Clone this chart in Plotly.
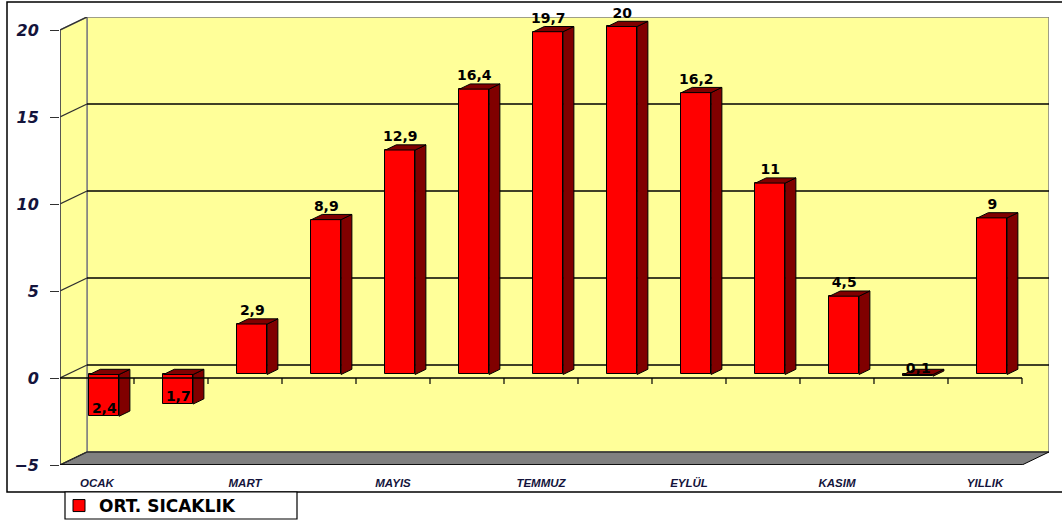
import plotly.graph_objects as go

# ---- data ----
months = ["OCAK", "ŞUBAT", "MART", "NİSAN", "MAYIS", "HAZİRAN", "TEMMUZ",
          "AĞUSTOS", "EYLÜL", "EKİM", "KASIM", "ARALIK", "YILLIK"]
temps = [-2.4, -1.7, 2.9, 8.9, 12.9, 16.4, 19.7, 20, 16.2, 11, 4.5, -0.1, 9]
series_name = "ORT. SICAKLIK"
y_ticks = [-5, 0, 5, 10, 15, 20]

# ---- 3D look geometry (in axis units) ----
DX, DY = 0.365, 0.747        # depth offset of the back wall
F, B = 0.27, 0.67            # bar front / back depth fraction
W = 0.40                     # bar width
YMIN, YMAX = -5, 20
n = len(months)
XL, XR = -0.5, n - 0.5

W_PX, H_PX = 1062, 525
ML, MR, MT, MB = 60, 13, 17, 60
PW, PH = W_PX - ML - MR, H_PX - MT - MB


def px2paper(px, py):
    return (px - ML) / PW, (H_PX - MB - py) / PH


RED, DARK = "#FF0000", "#800000"
YEL = "#FFFF99"

xs = list(range(n))
front_x = [c + F * DX for c in xs]

fig = go.Figure()

# front faces
fig.add_trace(go.Bar(
    x=front_x, y=temps, base=F * DY, width=W, name=series_name,
    marker=dict(color=RED, line=dict(color="black", width=1)),
    showlegend=True,
))

# side faces and top faces
side_x, side_y, top_x, top_y = [], [], [], []
for c, v in zip(xs, temps):
    lo, hi = min(0, v), max(0, v)
    xr = c + F * DX + W / 2
    xr2 = c + B * DX + W / 2
    side_x += [xr, xr, xr2, xr2, xr, None]
    side_y += [lo + F * DY, hi + F * DY, hi + B * DY, lo + B * DY, lo + F * DY, None]
    xl = c + F * DX - W / 2
    xl2 = c + B * DX - W / 2
    top_x += [xl, xr, xr2, xl2, xl, None]
    top_y += [hi + F * DY, hi + F * DY, hi + B * DY, hi + B * DY, hi + F * DY, None]

for px_, py_ in ((side_x, side_y), (top_x, top_y)):
    fig.add_trace(go.Scatter(
        x=px_, y=py_, mode="lines", fill="toself", fillcolor=DARK,
        line=dict(color="black", width=1), showlegend=False, hoverinfo="skip",
    ))

# value labels
lab_y = [(v + B * DY) if v >= 0 else (v + F * DY) for v in temps]
lab_t = [("%g" % abs(v)).replace(".", ",") for v in temps]
fig.add_trace(go.Scatter(
    x=front_x, y=lab_y, text=lab_t, mode="text", textposition="top center",
    textfont=dict(family="DejaVu Sans", size=14, color="black", weight="bold"),
    showlegend=False, cliponaxis=False, hoverinfo="skip",
))

# ---- walls, floor, grid ----
shapes = []
# back wall
shapes.append(dict(type="rect", xref="x", yref="y", layer="below",
                   x0=XL + DX, x1=XR + DX, y0=YMIN + DY, y1=YMAX + DY,
                   fillcolor=YEL, line=dict(color="#808080", width=1.5)))
# left side wall
shapes.append(dict(type="path", xref="x", yref="y", layer="below",
                   path=f"M{XL},{YMIN} L{XL},{YMAX} L{XL + DX},{YMAX + DY} L{XL + DX},{YMIN + DY} Z",
                   fillcolor=YEL, line=dict(color="#808080", width=1.5)))
# floor
shapes.append(dict(type="path", xref="x", yref="y", layer="below",
                   path=f"M{XL},{YMIN} L{XR},{YMIN} L{XR + DX},{YMIN + DY} L{XL + DX},{YMIN + DY} Z",
                   fillcolor="#808080", line=dict(color="black", width=1)))
# grid lines on back wall and side wall
for t in y_ticks[1:-1]:
    shapes.append(dict(type="line", xref="x", yref="y", layer="below",
                       x0=XL + DX, x1=XR + DX, y0=t + DY, y1=t + DY,
                       line=dict(color="black", width=1.3)))
for t in y_ticks:
    shapes.append(dict(type="line", xref="x", yref="y", layer="below",
                       x0=XL, x1=XL + DX, y0=t, y1=t + DY,
                       line=dict(color="#303030", width=1.3)))
# front left edge
shapes.append(dict(type="line", xref="x", yref="y", layer="below",
                   x0=XL, x1=XL, y0=YMIN, y1=YMAX,
                   line=dict(color="#404040", width=1.5)))
# front bottom edge with ticks
shapes.append(dict(type="line", xref="x", yref="y", layer="above",
                   x0=XL, x1=XR, y0=YMIN, y1=YMIN,
                   line=dict(color="black", width=1.3)))
# front zero line with ticks
shapes.append(dict(type="line", xref="x", yref="y", layer="above",
                   x0=XL, x1=XR, y0=0, y1=0,
                   line=dict(color="black", width=1.3)))
for k in range(n + 1):
    bx = XL + k
    shapes.append(dict(type="line", xref="x", yref="y", ysizemode="pixel",
                       yanchor=YMIN, x0=bx, x1=bx, y0=0, y1=-8, layer="above",
                       line=dict(color="black", width=1.2)))
    if k > 0:
        shapes.append(dict(type="line", xref="x", yref="y", ysizemode="pixel",
                           yanchor=0, x0=bx, x1=bx, y0=0, y1=-6, layer="above",
                           line=dict(color="black", width=1.2)))
# outer frame
fx0, fy0 = px2paper(7, 492)
fx1, fy1 = px2paper(1075, 2)
shapes.append(dict(type="rect", xref="paper", yref="paper", layer="below",
                   x0=fx0, x1=fx1, y0=fy0, y1=fy1,
                   line=dict(color="black", width=1.5), fillcolor="rgba(0,0,0,0)"))
# legend frame
bx0, by0 = px2paper(65, 519)
bx1, by1 = px2paper(297, 492)
shapes.append(dict(type="rect", xref="paper", yref="paper", layer="below",
                   x0=bx0, x1=bx1, y0=by0, y1=by1,
                   line=dict(color="black", width=1.2), fillcolor="white"))

lx, ly = px2paper(59, 488)

fig.update_layout(
    width=W_PX, height=H_PX,
    margin=dict(l=ML, r=MR, t=MT, b=MB, pad=0, autoexpand=False),
    paper_bgcolor="white", plot_bgcolor="rgba(0,0,0,0)",
    shapes=shapes,
    bargap=0,
    xaxis=dict(range=[XL, XR + DX], showgrid=False, zeroline=False, showline=False,
               tickvals=xs[::2], ticktext=months[::2], ticks="",
               ticklabelstandoff=9, automargin=False,
               tickfont=dict(family="Liberation Sans", size=11.5, color="#14143c",
                             weight="bold", style="italic")),
    yaxis=dict(range=[YMIN, YMAX + DY], showgrid=False, zeroline=False, showline=False,
               tickvals=y_ticks, ticks="outside", ticklen=9, tickwidth=1.3,
               tickcolor="#303030", ticklabelstandoff=8, automargin=False,
               tickfont=dict(family="DejaVu Sans", size=16, color="#14143c",
                             weight="bold", style="italic")),
    legend=dict(x=lx, y=ly, xanchor="left", yanchor="top", orientation="h",
                bgcolor="rgba(0,0,0,0)", borderwidth=0,
                itemwidth=30, tracegroupgap=0,
                font=dict(family="DejaVu Sans", size=17, color="black", weight="bold")),
)

fig.write_html("out.html")
